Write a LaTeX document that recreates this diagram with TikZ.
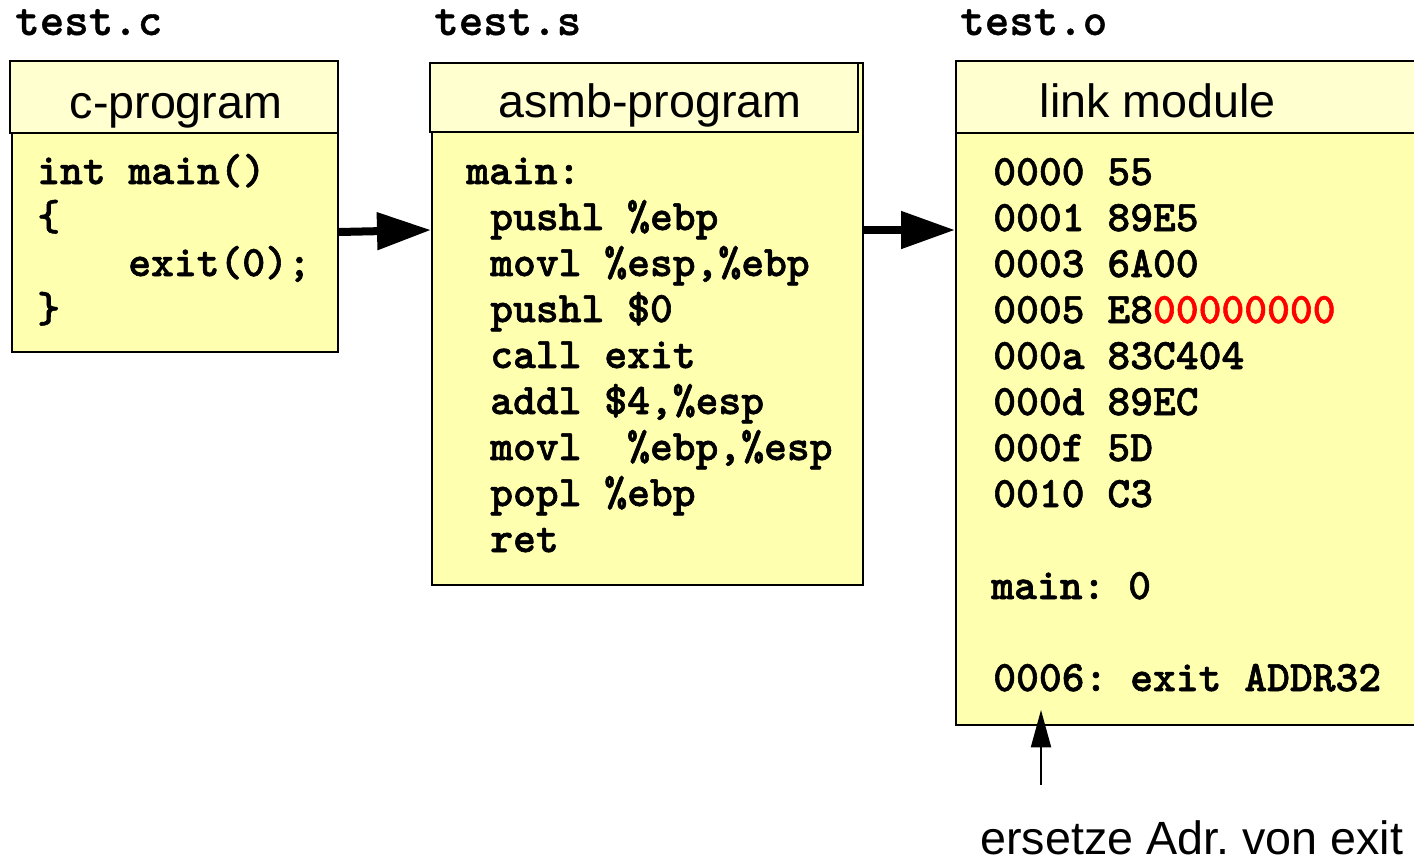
\documentclass[tikz,border=0pt]{standalone}
\usepackage{fontspec}
\setmainfont{Liberation Sans}
\newfontfamily\codefont{lmmonolt10-bold.otf}[FakeBold=1.3]
\newfontfamily\namefont{lmmonolt10-bold.otf}[FakeBold=0.8]
\usetikzlibrary{arrows.meta,fit}
\definecolor{hdr}{RGB}{255,255,208}
\definecolor{bdy}{RGB}{255,255,176}
\definecolor{hot}{RGB}{255,0,0}
\frenchspacing
\begin{document}
\begin{tikzpicture}[x=0.75pt,y=-0.75pt,
 box/.style={draw=black, line width=1.5pt, inner sep=0pt},
 hdrbox/.style={box, fill=hdr},
 bdybox/.style={box, fill=bdy},
 code/.style={font=\codefont\fontsize{32.6}{36}\selectfont, anchor=base west, inner sep=0pt},
 fname/.style={font=\namefont\fontsize{35}{40}\selectfont, anchor=base west, inner sep=0pt},
 title/.style={font=\fontsize{35}{40}\selectfont, anchor=base, inner sep=0pt},
 bigarrow/.style={line width=6pt, -{Triangle[length=40.5pt,width=27pt]}},
 thinarrow/.style={line width=1.5pt, -{Triangle[length=28pt,width=15pt]}}]
\useasboundingbox (0,0) rectangle (1414,861);

% file names
\node[fname] (f1) at (15,35) {test.c};
\node[fname] (f2) at (434,35) {test.s};
\node[fname] (f3) at (960,35) {test.o};

% box 1
\node[bdybox, fit={(12,132) (338,352)}] (b1) {};
\node[hdrbox, fit={(10,61) (338,133)}] (h1) {};
\node[title] (t1) at (176,118) {c-program};
\node[code] (c11) at (37,184) {int main()};
\node[code] (c12) at (37,230) {\{};
\node[code] (c13) at (128,276) {exit(0);};
\node[code] (c14) at (37,322) {\}};

% box 2
\node[bdybox, fit={(432,63) (863,585)}] (b2) {};
\node[hdrbox, fit={(430,63) (858,132)}] (h2) {};
\node[title] (t2) at (650,117) {asmb-program};
\node[code] (c21) at (466,184) {main:};
\node[code] (c22) at (490,230) {pushl \%ebp};
\node[code] (c23) at (490,276) {movl \%esp,\%ebp};
\node[code] (c24) at (490,322) {pushl \$0};
\node[code] (c25) at (490,368) {call exit};
\node[code] (c26) at (490,414) {addl \$4,\%esp};
\node[code] (c27) at (490,460) {movl\ \ \%ebp,\%esp};
\node[code] (c28) at (490,506) {popl \%ebp};
\node[code] (c29) at (490,552) {ret};

% box 3
\node[bdybox, fit={(956,133) (1420,725)}] (b3) {};
\node[hdrbox, fit={(956,61) (1420,133)}] (h3) {};
\node[title] (t3) at (1158,117) {link module};
\node[code] (c31) at (993,185) {0000 55};
\node[code] (c32) at (993,231) {0001 89E5};
\node[code] (c33) at (993,277) {0003 6A00};
\node[code] (c34) at (993,323) {0005 E8\textcolor{hot}{00000000}};
\node[code] (c35) at (993,369) {000a 83C404};
\node[code] (c36) at (993,415) {000d 89EC};
\node[code] (c37) at (993,461) {000f 5D};
\node[code] (c38) at (993,507) {0010 C3};
\node[code] (c39) at (991,599) {main: 0};
\node[code] (c310) at (993,691) {0006: exit ADDR32};

% arrows
\draw[bigarrow] ([yshift=7.5pt]b1.east) -- ([yshift=70.5pt]b2.west);
\draw[bigarrow] ([yshift=70.5pt]b2.east) -- ([yshift=149.25pt]b3.west);

\node[title, anchor=base west] (lab) at (980,854) {ersetze Adr. von exit};
\coordinate (src) at (1041,785);
\coordinate (tgt) at (1041,710);
\draw[thinarrow] (src) -- (tgt);
\end{tikzpicture}
\end{document}
